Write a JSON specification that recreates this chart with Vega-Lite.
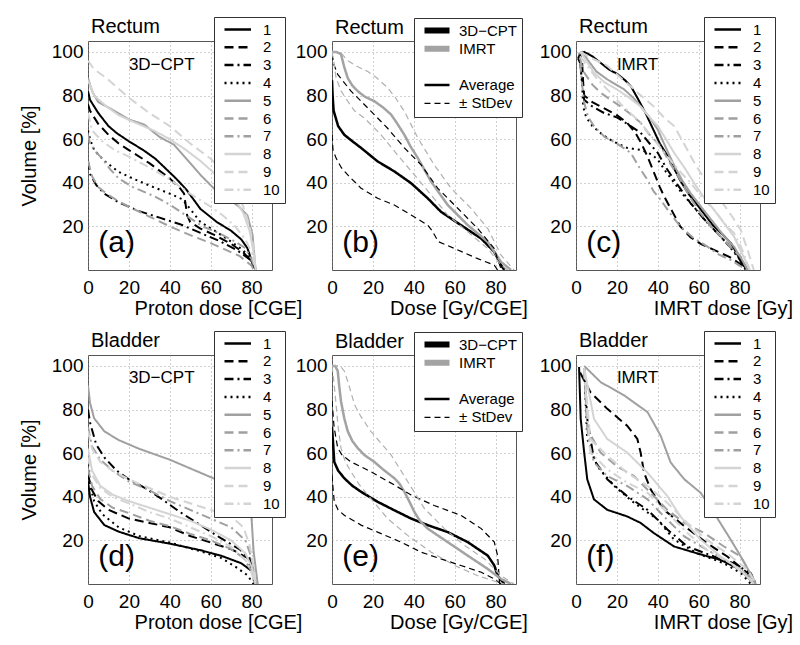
{
"$schema":"https://vega.github.io/schema/vega-lite/v6.json",
"background":"white",
"padding":{"left":19,"top":16,"right":0,"bottom":0},
"config":{
 "font":"Liberation Sans",
 "view":{"stroke":"#555555","strokeWidth":1},
 "axis":{"domain":false,"ticks":false,"tickSize":0,"labelFlush":false,"grid":true,"gridColor":"#8a8a8a","gridDash":[1,3],"gridWidth":0.8,"labelFont":"Liberation Sans","labelFontSize":19,"labelColor":"#000000","titleFont":"Liberation Sans","titleFontSize":20,"titleFontWeight":"normal","titleColor":"#000000"},
 "axisX":{"labelPadding":8.5,"titleY":44,"titleBaseline":"alphabetic","titleAlign":"center"},
 "axisY":{"labelPadding":5,"titleX":-52.5,"titleY":114.5,"titleBaseline":"alphabetic","titleAlign":"center","titleAngle":-90},
 "legend":{"orient":"none","title":null,"strokeColor":"#333333","fillColor":"#ffffff","padding":5,"labelFont":"Liberation Sans","labelFontSize":15,"labelColor":"#000000","symbolType":"M-1,0H4.3","symbolSize":100,"symbolStrokeWidth":2.5,"symbolOffset":3,"rowPadding":1.8,"labelOffset":26},
 "title":{"anchor":"start","frame":"group","baseline":"alphabetic","offset":7,"dx":3,"dy":27,"fontSize":20,"fontWeight":"normal","font":"Liberation Sans","color":"#000000"}
},
"resolve":{"scale":{"color":"independent","strokeDash":"independent"},"legend":{"color":"independent","strokeDash":"independent"}},
"datasets":{
"labels":[
 {"panel":"a","kind":"big","t":"(a)","x":5,"y":12.5},{"panel":"a","kind":"small","t":"3D−CPT","x":20,"y":94},
 {"panel":"b","kind":"big","t":"(b)","x":5,"y":12.5},
 {"panel":"c","kind":"big","t":"(c)","x":5,"y":12.5},{"panel":"c","kind":"small","t":"IMRT","x":20,"y":94},
 {"panel":"d","kind":"big","t":"(d)","x":5,"y":12.5},{"panel":"d","kind":"small","t":"3D−CPT","x":20,"y":94.5},
 {"panel":"e","kind":"big","t":"(e)","x":5,"y":12.5},
 {"panel":"f","kind":"big","t":"(f)","x":5,"y":12.5},{"panel":"f","kind":"small","t":"IMRT","x":20,"y":94.5}
],
"a":[
{"p":1,"x":0,"y":82},{"p":1,"x":1,"y":78},{"p":1,"x":5,"y":72},{"p":1,"x":10,"y":66},{"p":1,"x":14,"y":62.8},{"p":1,"x":20,"y":59},{"p":1,"x":27,"y":55},{"p":1,"x":33,"y":51},{"p":1,"x":38,"y":46.5},{"p":1,"x":43,"y":42},{"p":1,"x":48,"y":37},{"p":1,"x":55,"y":28},{"p":1,"x":63,"y":22},{"p":1,"x":70,"y":18},{"p":1,"x":75,"y":14},{"p":1,"x":78,"y":10},{"p":1,"x":80.5,"y":3},{"p":1,"x":82,"y":0},
{"p":2,"x":0,"y":76},{"p":2,"x":1,"y":73},{"p":2,"x":5,"y":67},{"p":2,"x":10,"y":62},{"p":2,"x":15,"y":58},{"p":2,"x":20,"y":55},{"p":2,"x":30,"y":49},{"p":2,"x":40,"y":42},{"p":2,"x":45,"y":37.5},{"p":2,"x":47,"y":35},{"p":2,"x":48.5,"y":25},{"p":2,"x":50,"y":22},{"p":2,"x":55,"y":19},{"p":2,"x":62,"y":16},{"p":2,"x":70,"y":12},{"p":2,"x":76,"y":8},{"p":2,"x":80,"y":4},{"p":2,"x":82,"y":0},
{"p":3,"x":0,"y":50},{"p":3,"x":1,"y":44},{"p":3,"x":4,"y":39},{"p":3,"x":8,"y":35},{"p":3,"x":15,"y":31},{"p":3,"x":25,"y":27},{"p":3,"x":35,"y":24},{"p":3,"x":45,"y":21},{"p":3,"x":55,"y":17},{"p":3,"x":65,"y":13},{"p":3,"x":73,"y":9},{"p":3,"x":79,"y":5},{"p":3,"x":82,"y":0},
{"p":4,"x":0,"y":64},{"p":4,"x":1,"y":60},{"p":4,"x":3,"y":55},{"p":4,"x":8,"y":50},{"p":4,"x":15,"y":45},{"p":4,"x":23,"y":41.5},{"p":4,"x":32,"y":38},{"p":4,"x":40,"y":35},{"p":4,"x":46,"y":32.5},{"p":4,"x":50,"y":28},{"p":4,"x":55,"y":22},{"p":4,"x":62,"y":18},{"p":4,"x":70,"y":13},{"p":4,"x":76,"y":9},{"p":4,"x":80,"y":4},{"p":4,"x":82,"y":0},
{"p":5,"x":0,"y":88},{"p":5,"x":2,"y":82},{"p":5,"x":5,"y":77},{"p":5,"x":11,"y":74},{"p":5,"x":20,"y":69},{"p":5,"x":27.5,"y":66.7},{"p":5,"x":35,"y":61},{"p":5,"x":42,"y":57.5},{"p":5,"x":50,"y":49},{"p":5,"x":55,"y":43.6},{"p":5,"x":62,"y":37},{"p":5,"x":68,"y":33},{"p":5,"x":74,"y":29},{"p":5,"x":78,"y":25},{"p":5,"x":80.5,"y":16},{"p":5,"x":81.5,"y":5},{"p":5,"x":82,"y":0},
{"p":6,"x":0,"y":50},{"p":6,"x":2,"y":43},{"p":6,"x":5,"y":38},{"p":6,"x":9,"y":35},{"p":6,"x":14,"y":32},{"p":6,"x":20,"y":29},{"p":6,"x":30,"y":24.5},{"p":6,"x":40,"y":20},{"p":6,"x":50,"y":16},{"p":6,"x":60,"y":12.3},{"p":6,"x":68,"y":9},{"p":6,"x":74,"y":6.5},{"p":6,"x":80,"y":2},{"p":6,"x":81,"y":0},
{"p":7,"x":0,"y":62},{"p":7,"x":1,"y":58},{"p":7,"x":4,"y":54},{"p":7,"x":7,"y":51},{"p":7,"x":11,"y":46},{"p":7,"x":15,"y":42},{"p":7,"x":22,"y":38},{"p":7,"x":32,"y":34},{"p":7,"x":40,"y":30},{"p":7,"x":48,"y":25},{"p":7,"x":56,"y":20},{"p":7,"x":64,"y":17},{"p":7,"x":72,"y":13},{"p":7,"x":77,"y":10},{"p":7,"x":80,"y":5},{"p":7,"x":82,"y":0},
{"p":8,"x":0,"y":87},{"p":8,"x":3,"y":80},{"p":8,"x":9,"y":75},{"p":8,"x":15,"y":71},{"p":8,"x":22,"y":68},{"p":8,"x":32,"y":64},{"p":8,"x":40,"y":60},{"p":8,"x":48,"y":55},{"p":8,"x":55,"y":50},{"p":8,"x":61,"y":45},{"p":8,"x":66,"y":40},{"p":8,"x":71,"y":34},{"p":8,"x":76,"y":26},{"p":8,"x":79,"y":18},{"p":8,"x":81,"y":8},{"p":8,"x":82,"y":0},
{"p":9,"x":0,"y":96},{"p":9,"x":3,"y":92},{"p":9,"x":9,"y":88},{"p":9,"x":20,"y":79},{"p":9,"x":30,"y":72},{"p":9,"x":40,"y":66},{"p":9,"x":50,"y":58},{"p":9,"x":60,"y":51},{"p":9,"x":67,"y":44.6},{"p":9,"x":71,"y":38},{"p":9,"x":76,"y":29},{"p":9,"x":79,"y":20},{"p":9,"x":81,"y":10},{"p":9,"x":82,"y":0},
{"p":10,"x":0,"y":72},{"p":10,"x":2,"y":64},{"p":10,"x":7,"y":59},{"p":10,"x":13,"y":55},{"p":10,"x":20,"y":52},{"p":10,"x":30,"y":47},{"p":10,"x":40,"y":41.5},{"p":10,"x":50,"y":35},{"p":10,"x":60,"y":29},{"p":10,"x":66,"y":25},{"p":10,"x":72,"y":20},{"p":10,"x":77,"y":14},{"p":10,"x":80,"y":8},{"p":10,"x":82,"y":0}
],
"c":[
{"p":1,"x":2,"y":99},{"p":1,"x":4,"y":100},{"p":1,"x":8,"y":98},{"p":1,"x":12,"y":95},{"p":1,"x":16,"y":92},{"p":1,"x":20,"y":90},{"p":1,"x":24,"y":87},{"p":1,"x":27,"y":84},{"p":1,"x":30,"y":79},{"p":1,"x":34,"y":72},{"p":1,"x":38,"y":64},{"p":1,"x":41,"y":58},{"p":1,"x":45,"y":52},{"p":1,"x":51,"y":41},{"p":1,"x":55,"y":35},{"p":1,"x":60,"y":29},{"p":1,"x":67,"y":20.5},{"p":1,"x":72,"y":16},{"p":1,"x":76,"y":12},{"p":1,"x":79,"y":7},{"p":1,"x":81,"y":3},{"p":1,"x":84,"y":0},
{"p":2,"x":1,"y":97},{"p":2,"x":2,"y":99},{"p":2,"x":3,"y":95},{"p":2,"x":3.5,"y":86},{"p":2,"x":4,"y":80},{"p":2,"x":8,"y":77},{"p":2,"x":15,"y":73.5},{"p":2,"x":20,"y":71},{"p":2,"x":25,"y":67.5},{"p":2,"x":29,"y":63},{"p":2,"x":32,"y":58},{"p":2,"x":35,"y":52},{"p":2,"x":38,"y":45},{"p":2,"x":41,"y":38},{"p":2,"x":43,"y":34},{"p":2,"x":47,"y":27},{"p":2,"x":51,"y":20},{"p":2,"x":56,"y":15},{"p":2,"x":61,"y":12},{"p":2,"x":68,"y":9},{"p":2,"x":75,"y":6},{"p":2,"x":80,"y":3},{"p":2,"x":84,"y":0},
{"p":3,"x":1,"y":97},{"p":3,"x":2,"y":95},{"p":3,"x":3,"y":88},{"p":3,"x":4,"y":78},{"p":3,"x":8,"y":75},{"p":3,"x":13.7,"y":72},{"p":3,"x":20,"y":70},{"p":3,"x":25,"y":67},{"p":3,"x":31.6,"y":63},{"p":3,"x":36,"y":58},{"p":3,"x":40,"y":53.7},{"p":3,"x":44,"y":47},{"p":3,"x":48,"y":41.4},{"p":3,"x":52,"y":36},{"p":3,"x":56,"y":30.7},{"p":3,"x":62,"y":24},{"p":3,"x":67.5,"y":18.5},{"p":3,"x":72,"y":14},{"p":3,"x":77,"y":9},{"p":3,"x":81,"y":4},{"p":3,"x":84,"y":0},
{"p":4,"x":2,"y":96},{"p":4,"x":3,"y":85},{"p":4,"x":3.5,"y":75},{"p":4,"x":5,"y":70},{"p":4,"x":8,"y":66},{"p":4,"x":13,"y":62},{"p":4,"x":18,"y":59},{"p":4,"x":25,"y":56},{"p":4,"x":32,"y":55},{"p":4,"x":37,"y":53},{"p":4,"x":40,"y":50.6},{"p":4,"x":44,"y":45},{"p":4,"x":48,"y":40},{"p":4,"x":52,"y":35},{"p":4,"x":56,"y":30.7},{"p":4,"x":62,"y":24},{"p":4,"x":68,"y":18},{"p":4,"x":74,"y":12},{"p":4,"x":80,"y":5},{"p":4,"x":83,"y":0},
{"p":5,"x":1,"y":99},{"p":5,"x":3,"y":100},{"p":5,"x":6,"y":96},{"p":5,"x":10,"y":91},{"p":5,"x":15.3,"y":87.4},{"p":5,"x":23.5,"y":82.8},{"p":5,"x":28,"y":79},{"p":5,"x":31.6,"y":75},{"p":5,"x":36,"y":70},{"p":5,"x":40,"y":64.4},{"p":5,"x":44,"y":56},{"p":5,"x":48,"y":48},{"p":5,"x":52,"y":41},{"p":5,"x":56,"y":35.3},{"p":5,"x":62,"y":28},{"p":5,"x":67.5,"y":21.5},{"p":5,"x":72,"y":16},{"p":5,"x":77.3,"y":10.7},{"p":5,"x":81,"y":5},{"p":5,"x":84,"y":0},
{"p":6,"x":2,"y":97},{"p":6,"x":3,"y":93},{"p":6,"x":4,"y":90.5},{"p":6,"x":8,"y":85},{"p":6,"x":12,"y":81.3},{"p":6,"x":17,"y":78},{"p":6,"x":21.8,"y":75},{"p":6,"x":26,"y":72},{"p":6,"x":31.6,"y":67.5},{"p":6,"x":36,"y":62},{"p":6,"x":41.4,"y":56.7},{"p":6,"x":46,"y":49},{"p":6,"x":51,"y":41.4},{"p":6,"x":56,"y":33},{"p":6,"x":61,"y":26},{"p":6,"x":66,"y":20},{"p":6,"x":70.8,"y":15.3},{"p":6,"x":76,"y":10},{"p":6,"x":80.6,"y":6},{"p":6,"x":84,"y":0},
{"p":7,"x":2,"y":95},{"p":7,"x":3,"y":85},{"p":7,"x":4,"y":76.7},{"p":7,"x":6,"y":70},{"p":7,"x":8.8,"y":66},{"p":7,"x":14,"y":61},{"p":7,"x":20,"y":58},{"p":7,"x":26.8,"y":53.7},{"p":7,"x":31,"y":47},{"p":7,"x":34.9,"y":41.4},{"p":7,"x":38,"y":36},{"p":7,"x":41.4,"y":32.2},{"p":7,"x":46,"y":26},{"p":7,"x":51,"y":20},{"p":7,"x":57,"y":15},{"p":7,"x":64.3,"y":10.7},{"p":7,"x":70,"y":7},{"p":7,"x":75.7,"y":4.6},{"p":7,"x":80,"y":2},{"p":7,"x":84,"y":0},
{"p":8,"x":2,"y":100},{"p":8,"x":5,"y":96},{"p":8,"x":8.8,"y":90.5},{"p":8,"x":14,"y":86},{"p":8,"x":20,"y":82.8},{"p":8,"x":26,"y":79},{"p":8,"x":31.6,"y":75},{"p":8,"x":36,"y":70},{"p":8,"x":40,"y":66},{"p":8,"x":44,"y":60},{"p":8,"x":48,"y":53.7},{"p":8,"x":53,"y":47},{"p":8,"x":57.7,"y":40},{"p":8,"x":62,"y":34},{"p":8,"x":67.5,"y":27.6},{"p":8,"x":72,"y":22},{"p":8,"x":77.3,"y":15.3},{"p":8,"x":81,"y":8},{"p":8,"x":85,"y":0},
{"p":9,"x":2,"y":100},{"p":9,"x":8,"y":97},{"p":9,"x":15.3,"y":93.6},{"p":9,"x":22,"y":88},{"p":9,"x":28.4,"y":82.8},{"p":9,"x":33,"y":79},{"p":9,"x":38,"y":75},{"p":9,"x":43,"y":70},{"p":9,"x":48,"y":66},{"p":9,"x":51,"y":61},{"p":9,"x":54.5,"y":55},{"p":9,"x":58,"y":49},{"p":9,"x":61,"y":44.5},{"p":9,"x":66,"y":38},{"p":9,"x":70.8,"y":32},{"p":9,"x":76,"y":25},{"p":9,"x":80.6,"y":18.4},{"p":9,"x":84,"y":9},{"p":9,"x":87,"y":0},
{"p":10,"x":2,"y":98},{"p":10,"x":6,"y":93},{"p":10,"x":10,"y":88},{"p":10,"x":15.3,"y":82.8},{"p":10,"x":22,"y":76},{"p":10,"x":31.6,"y":67.5},{"p":10,"x":38,"y":60},{"p":10,"x":44.7,"y":52},{"p":10,"x":50,"y":46},{"p":10,"x":56,"y":40},{"p":10,"x":62,"y":33},{"p":10,"x":67.5,"y":27.6},{"p":10,"x":73,"y":21},{"p":10,"x":77.3,"y":16.9},{"p":10,"x":81,"y":10},{"p":10,"x":85,"y":0}
],
"d":[
{"p":1,"x":0,"y":47},{"p":1,"x":1,"y":40},{"p":1,"x":3,"y":33},{"p":1,"x":8,"y":27},{"p":1,"x":15,"y":24},{"p":1,"x":25,"y":21},{"p":1,"x":40,"y":18.5},{"p":1,"x":55,"y":15.5},{"p":1,"x":65,"y":13},{"p":1,"x":75,"y":9.5},{"p":1,"x":80,"y":6},{"p":1,"x":82,"y":0},
{"p":2,"x":0,"y":50},{"p":2,"x":2,"y":43},{"p":2,"x":5,"y":38},{"p":2,"x":10,"y":34},{"p":2,"x":20,"y":30},{"p":2,"x":30,"y":28},{"p":2,"x":40,"y":26},{"p":2,"x":50,"y":22},{"p":2,"x":60,"y":19},{"p":2,"x":70,"y":16},{"p":2,"x":78,"y":12},{"p":2,"x":82,"y":0},
{"p":3,"x":0,"y":80},{"p":3,"x":1,"y":74},{"p":3,"x":4,"y":64},{"p":3,"x":8,"y":58},{"p":3,"x":14,"y":52},{"p":3,"x":20,"y":48},{"p":3,"x":28,"y":44},{"p":3,"x":36,"y":39},{"p":3,"x":45,"y":33},{"p":3,"x":55,"y":27},{"p":3,"x":65,"y":21},{"p":3,"x":74,"y":16},{"p":3,"x":79,"y":12},{"p":3,"x":82,"y":0},
{"p":4,"x":0,"y":55},{"p":4,"x":1,"y":45},{"p":4,"x":3,"y":38},{"p":4,"x":7,"y":32},{"p":4,"x":15,"y":26},{"p":4,"x":25,"y":22},{"p":4,"x":40,"y":19},{"p":4,"x":55,"y":15},{"p":4,"x":65,"y":12},{"p":4,"x":72,"y":8},{"p":4,"x":78,"y":4},{"p":4,"x":81,"y":0},
{"p":5,"x":0,"y":91},{"p":5,"x":1,"y":83},{"p":5,"x":3,"y":76},{"p":5,"x":8,"y":70},{"p":5,"x":15,"y":66},{"p":5,"x":25,"y":62},{"p":5,"x":40,"y":57},{"p":5,"x":55,"y":51},{"p":5,"x":65,"y":47},{"p":5,"x":73,"y":43},{"p":5,"x":78,"y":39},{"p":5,"x":80,"y":30},{"p":5,"x":81,"y":15},{"p":5,"x":83,"y":0},
{"p":6,"x":0,"y":53},{"p":6,"x":2,"y":45},{"p":6,"x":6,"y":39},{"p":6,"x":12,"y":35},{"p":6,"x":20,"y":32.5},{"p":6,"x":30,"y":29},{"p":6,"x":40,"y":26.5},{"p":6,"x":50,"y":23},{"p":6,"x":60,"y":20},{"p":6,"x":70,"y":16},{"p":6,"x":76,"y":12},{"p":6,"x":80,"y":6},{"p":6,"x":82,"y":0},
{"p":7,"x":0,"y":72},{"p":7,"x":2,"y":63},{"p":7,"x":6,"y":57},{"p":7,"x":12,"y":52},{"p":7,"x":20,"y":47},{"p":7,"x":30,"y":43},{"p":7,"x":40,"y":38},{"p":7,"x":50,"y":34},{"p":7,"x":60,"y":30},{"p":7,"x":70,"y":26},{"p":7,"x":77,"y":20},{"p":7,"x":80,"y":12},{"p":7,"x":82,"y":0},
{"p":8,"x":0,"y":62},{"p":8,"x":2,"y":52},{"p":8,"x":6,"y":45},{"p":8,"x":12,"y":41},{"p":8,"x":20,"y":38},{"p":8,"x":30,"y":35},{"p":8,"x":40,"y":32},{"p":8,"x":50,"y":29},{"p":8,"x":60,"y":25},{"p":8,"x":70,"y":20},{"p":8,"x":77,"y":14},{"p":8,"x":80,"y":8},{"p":8,"x":82,"y":0},
{"p":9,"x":0,"y":70},{"p":9,"x":2,"y":62},{"p":9,"x":6,"y":56},{"p":9,"x":12,"y":52},{"p":9,"x":20,"y":48},{"p":9,"x":30,"y":44},{"p":9,"x":40,"y":40},{"p":9,"x":50,"y":37},{"p":9,"x":60,"y":34},{"p":9,"x":70,"y":31},{"p":9,"x":76,"y":26},{"p":9,"x":79,"y":18},{"p":9,"x":81,"y":8},{"p":9,"x":82,"y":0},
{"p":10,"x":0,"y":58},{"p":10,"x":2,"y":50},{"p":10,"x":6,"y":44},{"p":10,"x":12,"y":40},{"p":10,"x":20,"y":37},{"p":10,"x":30,"y":33},{"p":10,"x":40,"y":30},{"p":10,"x":50,"y":26},{"p":10,"x":60,"y":22},{"p":10,"x":70,"y":17},{"p":10,"x":78,"y":10},{"p":10,"x":82,"y":0}
],
"f":[
{"p":1,"x":1.5,"y":99.5},{"p":1,"x":2.3,"y":75.7},{"p":1,"x":4,"y":60.3},{"p":1,"x":5.5,"y":48},{"p":1,"x":8.8,"y":38.8},{"p":1,"x":15.3,"y":34},{"p":1,"x":25,"y":31},{"p":1,"x":31.6,"y":28},{"p":1,"x":38,"y":23.4},{"p":1,"x":48,"y":17.2},{"p":1,"x":59.4,"y":14},{"p":1,"x":70.8,"y":11},{"p":1,"x":80.6,"y":6.5},{"p":1,"x":87,"y":0},
{"p":2,"x":2,"y":97},{"p":2,"x":7,"y":88},{"p":2,"x":15.3,"y":80.3},{"p":2,"x":25,"y":72.6},{"p":2,"x":30,"y":66.5},{"p":2,"x":31.6,"y":60.3},{"p":2,"x":33.3,"y":51},{"p":2,"x":36.5,"y":43.4},{"p":2,"x":43,"y":34},{"p":2,"x":53,"y":26.5},{"p":2,"x":64,"y":18.8},{"p":2,"x":74,"y":12.6},{"p":2,"x":84,"y":5},{"p":2,"x":87,"y":0},
{"p":3,"x":4,"y":99},{"p":3,"x":5.5,"y":75.7},{"p":3,"x":8.8,"y":57},{"p":3,"x":15.3,"y":48},{"p":3,"x":25,"y":40.3},{"p":3,"x":35,"y":34},{"p":3,"x":44.7,"y":25},{"p":3,"x":54.5,"y":17.2},{"p":3,"x":67.5,"y":12.6},{"p":3,"x":77,"y":9.5},{"p":3,"x":85.5,"y":5},{"p":3,"x":88,"y":0},
{"p":4,"x":4,"y":99},{"p":4,"x":5.5,"y":66.5},{"p":4,"x":10.4,"y":54},{"p":4,"x":18.6,"y":45},{"p":4,"x":28.4,"y":37.2},{"p":4,"x":40,"y":29.5},{"p":4,"x":48,"y":20.3},{"p":4,"x":59.4,"y":14},{"p":4,"x":72.4,"y":9.5},{"p":4,"x":80.6,"y":5},{"p":4,"x":85.5,"y":0},
{"p":5,"x":4,"y":100},{"p":5,"x":12,"y":92.6},{"p":5,"x":23.5,"y":86.5},{"p":5,"x":35,"y":78.8},{"p":5,"x":41.4,"y":68},{"p":5,"x":46.3,"y":55.7},{"p":5,"x":53,"y":48},{"p":5,"x":61,"y":41.8},{"p":5,"x":67.5,"y":32.6},{"p":5,"x":75.7,"y":20.3},{"p":5,"x":80.6,"y":12.6},{"p":5,"x":87,"y":2},{"p":5,"x":88,"y":0},
{"p":6,"x":4,"y":99},{"p":6,"x":5.5,"y":71},{"p":6,"x":12,"y":60.3},{"p":6,"x":20,"y":54},{"p":6,"x":28.4,"y":49.5},{"p":6,"x":36.5,"y":41.8},{"p":6,"x":44.7,"y":34},{"p":6,"x":53,"y":28},{"p":6,"x":62.6,"y":23.4},{"p":6,"x":72.4,"y":17.2},{"p":6,"x":80.6,"y":12.6},{"p":6,"x":87,"y":2},
{"p":7,"x":4,"y":98},{"p":7,"x":6,"y":66},{"p":7,"x":8.8,"y":55.7},{"p":7,"x":15.3,"y":49.5},{"p":7,"x":25,"y":45},{"p":7,"x":35,"y":38.8},{"p":7,"x":43,"y":31},{"p":7,"x":53,"y":21.8},{"p":7,"x":64,"y":15.7},{"p":7,"x":75.7,"y":9.5},{"p":7,"x":85.5,"y":3.4},{"p":7,"x":87,"y":0},
{"p":8,"x":4,"y":99},{"p":8,"x":8.8,"y":75.7},{"p":8,"x":15.3,"y":66.5},{"p":8,"x":25,"y":60.3},{"p":8,"x":35,"y":51},{"p":8,"x":44.7,"y":40.3},{"p":8,"x":51,"y":31},{"p":8,"x":61,"y":20.3},{"p":8,"x":70.8,"y":12.6},{"p":8,"x":80.6,"y":6.5},{"p":8,"x":87,"y":0},
{"p":9,"x":4,"y":99},{"p":9,"x":7,"y":66.5},{"p":9,"x":15.3,"y":58.8},{"p":9,"x":25,"y":51},{"p":9,"x":35,"y":45},{"p":9,"x":44.7,"y":37.2},{"p":9,"x":54.5,"y":28},{"p":9,"x":64,"y":20.3},{"p":9,"x":74,"y":14},{"p":9,"x":84,"y":6.5},{"p":9,"x":88,"y":0},
{"p":10,"x":4,"y":98},{"p":10,"x":7,"y":60.3},{"p":10,"x":15.3,"y":52.6},{"p":10,"x":25,"y":46.5},{"p":10,"x":35,"y":41.8},{"p":10,"x":44.7,"y":32.6},{"p":10,"x":54.5,"y":23.4},{"p":10,"x":64,"y":15.7},{"p":10,"x":75.7,"y":9.5},{"p":10,"x":85.5,"y":2},{"p":10,"x":87,"y":0}
],
"b":[
{"k":"Average","l":"c","x":0,"y":87},{"k":"Average","l":"c","x":0.3,"y":80},{"k":"Average","l":"c","x":0.8,"y":73},{"k":"Average","l":"c","x":3,"y":66},{"k":"Average","l":"c","x":6,"y":62},{"k":"Average","l":"c","x":10,"y":59},{"k":"Average","l":"c","x":14.2,"y":56},{"k":"Average","l":"c","x":22.3,"y":49.8},{"k":"Average","l":"c","x":30.5,"y":45.2},{"k":"Average","l":"c","x":38.7,"y":39.8},{"k":"Average","l":"c","x":46.8,"y":32.9},{"k":"Average","l":"c","x":53.3,"y":26.7},{"k":"Average","l":"c","x":63,"y":20.6},{"k":"Average","l":"c","x":73,"y":14.4},{"k":"Average","l":"c","x":79.4,"y":8.3},{"k":"Average","l":"c","x":82.7,"y":2.2},{"k":"Average","l":"c","x":84.3,"y":0},
{"k":"± StDev","l":"clo","x":0,"y":62},{"k":"± StDev","l":"clo","x":0.5,"y":55},{"k":"± StDev","l":"clo","x":2,"y":51.3},{"k":"± StDev","l":"clo","x":4.5,"y":47},{"k":"± StDev","l":"clo","x":7.7,"y":43.6},{"k":"± StDev","l":"clo","x":14.2,"y":37.5},{"k":"± StDev","l":"clo","x":22.3,"y":32.9},{"k":"± StDev","l":"clo","x":30.5,"y":29.8},{"k":"± StDev","l":"clo","x":38.7,"y":25.2},{"k":"± StDev","l":"clo","x":46.8,"y":20.6},{"k":"± StDev","l":"clo","x":49,"y":18},{"k":"± StDev","l":"clo","x":52,"y":13},{"k":"± StDev","l":"clo","x":60,"y":9.8},{"k":"± StDev","l":"clo","x":71.3,"y":5.2},{"k":"± StDev","l":"clo","x":79.4,"y":2.2},{"k":"± StDev","l":"clo","x":81,"y":0},
{"k":"± StDev","l":"chi","x":0,"y":99},{"k":"± StDev","l":"chi","x":1,"y":94},{"k":"± StDev","l":"chi","x":2.8,"y":89.7},{"k":"± StDev","l":"chi","x":9.3,"y":82},{"k":"± StDev","l":"chi","x":17.5,"y":74.3},{"k":"± StDev","l":"chi","x":27.2,"y":65},{"k":"± StDev","l":"chi","x":35.4,"y":56},{"k":"± StDev","l":"chi","x":43.6,"y":48.2},{"k":"± StDev","l":"chi","x":51.7,"y":37.5},{"k":"± StDev","l":"chi","x":61.5,"y":28.3},{"k":"± StDev","l":"chi","x":71.3,"y":19},{"k":"± StDev","l":"chi","x":79.4,"y":9.8},{"k":"± StDev","l":"chi","x":81,"y":5},{"k":"± StDev","l":"chi","x":82.7,"y":0.6},
{"k":"IMRT avg","l":"i","x":0,"y":100},{"k":"IMRT avg","l":"i","x":2,"y":100},{"k":"IMRT avg","l":"i","x":4.4,"y":99},{"k":"IMRT avg","l":"i","x":6,"y":93},{"k":"IMRT avg","l":"i","x":7.7,"y":88},{"k":"IMRT avg","l":"i","x":10,"y":84.5},{"k":"IMRT avg","l":"i","x":12.6,"y":82},{"k":"IMRT avg","l":"i","x":16,"y":79.5},{"k":"IMRT avg","l":"i","x":20.7,"y":77.4},{"k":"IMRT avg","l":"i","x":25,"y":74.5},{"k":"IMRT avg","l":"i","x":28.9,"y":71.3},{"k":"IMRT avg","l":"i","x":32,"y":67},{"k":"IMRT avg","l":"i","x":35.4,"y":62},{"k":"IMRT avg","l":"i","x":38.5,"y":56.5},{"k":"IMRT avg","l":"i","x":42,"y":51.3},{"k":"IMRT avg","l":"i","x":48.5,"y":40.5},{"k":"IMRT avg","l":"i","x":56.6,"y":29.8},{"k":"IMRT avg","l":"i","x":66.4,"y":20.6},{"k":"IMRT avg","l":"i","x":76.2,"y":12.9},{"k":"IMRT avg","l":"i","x":82.7,"y":3.7},{"k":"IMRT avg","l":"i","x":87.6,"y":0},
{"k":"IMRT sd","l":"ihi","x":0,"y":100},{"k":"IMRT sd","l":"ihi","x":4,"y":100},{"k":"IMRT sd","l":"ihi","x":7.7,"y":96},{"k":"IMRT sd","l":"ihi","x":12,"y":93.5},{"k":"IMRT sd","l":"ihi","x":17.5,"y":91},{"k":"IMRT sd","l":"ihi","x":22,"y":88},{"k":"IMRT sd","l":"ihi","x":27.2,"y":83.6},{"k":"IMRT sd","l":"ihi","x":31,"y":79},{"k":"IMRT sd","l":"ihi","x":35.4,"y":72.8},{"k":"IMRT sd","l":"ihi","x":38.5,"y":67},{"k":"IMRT sd","l":"ihi","x":42,"y":60.5},{"k":"IMRT sd","l":"ihi","x":50,"y":48.2},{"k":"IMRT sd","l":"ihi","x":58.2,"y":37.5},{"k":"IMRT sd","l":"ihi","x":68,"y":28.3},{"k":"IMRT sd","l":"ihi","x":76.2,"y":19},{"k":"IMRT sd","l":"ihi","x":82.7,"y":6.8},{"k":"IMRT sd","l":"ihi","x":89,"y":0},
{"k":"IMRT sd","l":"ilo","x":0,"y":100},{"k":"IMRT sd","l":"ilo","x":1,"y":95},{"k":"IMRT sd","l":"ilo","x":2,"y":88},{"k":"IMRT sd","l":"ilo","x":4.5,"y":82},{"k":"IMRT sd","l":"ilo","x":7.7,"y":77.4},{"k":"IMRT sd","l":"ilo","x":11,"y":73},{"k":"IMRT sd","l":"ilo","x":15.8,"y":69.7},{"k":"IMRT sd","l":"ilo","x":24,"y":62},{"k":"IMRT sd","l":"ilo","x":32,"y":52.8},{"k":"IMRT sd","l":"ilo","x":40.3,"y":43.6},{"k":"IMRT sd","l":"ilo","x":48.5,"y":34.4},{"k":"IMRT sd","l":"ilo","x":56.6,"y":25.2},{"k":"IMRT sd","l":"ilo","x":66.4,"y":17.5},{"k":"IMRT sd","l":"ilo","x":76.2,"y":9.8},{"k":"IMRT sd","l":"ilo","x":82.7,"y":2.2},{"k":"IMRT sd","l":"ilo","x":86,"y":0}
],
"e":[
{"k":"Average","l":"c","x":0,"y":72},{"k":"Average","l":"c","x":0.5,"y":65},{"k":"Average","l":"c","x":1.1,"y":56},{"k":"Average","l":"c","x":3,"y":52},{"k":"Average","l":"c","x":6,"y":48.5},{"k":"Average","l":"c","x":10,"y":45},{"k":"Average","l":"c","x":14.2,"y":42.3},{"k":"Average","l":"c","x":22.3,"y":37.7},{"k":"Average","l":"c","x":30.5,"y":33.8},{"k":"Average","l":"c","x":38.7,"y":30},{"k":"Average","l":"c","x":46.8,"y":27},{"k":"Average","l":"c","x":56.6,"y":23.8},{"k":"Average","l":"c","x":66.4,"y":19.2},{"k":"Average","l":"c","x":76.2,"y":13},{"k":"Average","l":"c","x":79.4,"y":8.5},{"k":"Average","l":"c","x":81,"y":3.8},{"k":"Average","l":"c","x":84.3,"y":0},
{"k":"± StDev","l":"chi","x":0,"y":84},{"k":"± StDev","l":"chi","x":1,"y":72},{"k":"± StDev","l":"chi","x":2.8,"y":62.3},{"k":"± StDev","l":"chi","x":5,"y":59},{"k":"± StDev","l":"chi","x":9.3,"y":56},{"k":"± StDev","l":"chi","x":19,"y":51.5},{"k":"± StDev","l":"chi","x":30.5,"y":45.4},{"k":"± StDev","l":"chi","x":38.7,"y":40.8},{"k":"± StDev","l":"chi","x":50,"y":36},{"k":"± StDev","l":"chi","x":63,"y":31.5},{"k":"± StDev","l":"chi","x":73,"y":25.4},{"k":"± StDev","l":"chi","x":79.4,"y":19.2},{"k":"± StDev","l":"chi","x":81,"y":13},{"k":"± StDev","l":"chi","x":82,"y":0},
{"k":"± StDev","l":"clo","x":0,"y":50},{"k":"± StDev","l":"clo","x":0.5,"y":44},{"k":"± StDev","l":"clo","x":1.1,"y":37.7},{"k":"± StDev","l":"clo","x":3,"y":34},{"k":"± StDev","l":"clo","x":6,"y":31.5},{"k":"± StDev","l":"clo","x":14.2,"y":27},{"k":"± StDev","l":"clo","x":22.3,"y":23.8},{"k":"± StDev","l":"clo","x":33.8,"y":19.2},{"k":"± StDev","l":"clo","x":43.6,"y":14.6},{"k":"± StDev","l":"clo","x":53.3,"y":11.5},{"k":"± StDev","l":"clo","x":63,"y":8.5},{"k":"± StDev","l":"clo","x":73,"y":5.4},{"k":"± StDev","l":"clo","x":79.4,"y":2.3},{"k":"± StDev","l":"clo","x":82.7,"y":0},
{"k":"IMRT avg","l":"i","x":0,"y":100},{"k":"IMRT avg","l":"i","x":1.5,"y":100},{"k":"IMRT avg","l":"i","x":2.8,"y":97.7},{"k":"IMRT avg","l":"i","x":3.5,"y":91},{"k":"IMRT avg","l":"i","x":4.4,"y":83.8},{"k":"IMRT avg","l":"i","x":6,"y":76},{"k":"IMRT avg","l":"i","x":7.7,"y":70},{"k":"IMRT avg","l":"i","x":10,"y":65.5},{"k":"IMRT avg","l":"i","x":12.6,"y":62.3},{"k":"IMRT avg","l":"i","x":16,"y":59},{"k":"IMRT avg","l":"i","x":20.7,"y":56},{"k":"IMRT avg","l":"i","x":25,"y":52.5},{"k":"IMRT avg","l":"i","x":30.5,"y":48.5},{"k":"IMRT avg","l":"i","x":33,"y":46},{"k":"IMRT avg","l":"i","x":35.4,"y":42.3},{"k":"IMRT avg","l":"i","x":38,"y":37.5},{"k":"IMRT avg","l":"i","x":40.3,"y":33},{"k":"IMRT avg","l":"i","x":43,"y":29},{"k":"IMRT avg","l":"i","x":46.8,"y":25.4},{"k":"IMRT avg","l":"i","x":56.6,"y":19.2},{"k":"IMRT avg","l":"i","x":66.4,"y":13},{"k":"IMRT avg","l":"i","x":76.2,"y":6.9},{"k":"IMRT avg","l":"i","x":82.7,"y":2.3},{"k":"IMRT avg","l":"i","x":87.6,"y":0},
{"k":"IMRT sd","l":"ihi","x":0,"y":100},{"k":"IMRT sd","l":"ihi","x":4,"y":100},{"k":"IMRT sd","l":"ihi","x":6,"y":97.7},{"k":"IMRT sd","l":"ihi","x":8,"y":92},{"k":"IMRT sd","l":"ihi","x":11,"y":82.3},{"k":"IMRT sd","l":"ihi","x":14,"y":77},{"k":"IMRT sd","l":"ihi","x":19,"y":70},{"k":"IMRT sd","l":"ihi","x":28.9,"y":59.2},{"k":"IMRT sd","l":"ihi","x":37,"y":47},{"k":"IMRT sd","l":"ihi","x":45.2,"y":34.6},{"k":"IMRT sd","l":"ihi","x":55,"y":25.4},{"k":"IMRT sd","l":"ihi","x":64.8,"y":17.7},{"k":"IMRT sd","l":"ihi","x":74.6,"y":11.5},{"k":"IMRT sd","l":"ihi","x":82.7,"y":3.8},{"k":"IMRT sd","l":"ihi","x":89,"y":0},
{"k":"IMRT sd","l":"ilo","x":0,"y":100},{"k":"IMRT sd","l":"ilo","x":1,"y":92},{"k":"IMRT sd","l":"ilo","x":2,"y":82.3},{"k":"IMRT sd","l":"ilo","x":3,"y":72},{"k":"IMRT sd","l":"ilo","x":4.4,"y":62.3},{"k":"IMRT sd","l":"ilo","x":6.5,"y":56},{"k":"IMRT sd","l":"ilo","x":9.3,"y":51.5},{"k":"IMRT sd","l":"ilo","x":13,"y":46},{"k":"IMRT sd","l":"ilo","x":17.5,"y":40.8},{"k":"IMRT sd","l":"ilo","x":27.2,"y":30},{"k":"IMRT sd","l":"ilo","x":37,"y":22.3},{"k":"IMRT sd","l":"ilo","x":48.5,"y":14.6},{"k":"IMRT sd","l":"ilo","x":60,"y":8.5},{"k":"IMRT sd","l":"ilo","x":71.3,"y":3.8},{"k":"IMRT sd","l":"ilo","x":81,"y":0.8},{"k":"IMRT sd","l":"ilo","x":84.3,"y":0}
]
},
"columns":3,
"spacing":{"row":85,"column":60},
"bounds":"flush",
"concat":[
{"width":184,"height":229,"title":{"text":"Rectum"},
 "layer":[
  {"data":{"name":"a"},"mark":{"type":"line","strokeWidth":2,"clip":true},
   "encoding":{
    "x":{"field":"x","type":"quantitative","scale":{"domain":[0,90],"nice":false,"zero":false},"axis":{"values":[0,20,40,60,80],"title":"Proton dose [CGE]","titleX":130}},
    "y":{"field":"y","type":"quantitative","scale":{"domain":[0,105],"nice":false,"zero":false},"axis":{"values":[20,40,60,80,100],"title":"Volume [%]"}},
    "color":{"field":"p","type":"nominal","scale":{"domain":[1,2,3,4,5,6,7,8,9,10],"range":["#000000","#000000","#000000","#000000","#a0a0a0","#a0a0a0","#a0a0a0","#d4d4d4","#d4d4d4","#d4d4d4"]},"legend":{"legendX":126,"legendY":-24}},
    "strokeDash":{"field":"p","type":"nominal","scale":{"domain":[1,2,3,4,5,6,7,8,9,10],"range":[[1,0],[9,5],[9,4,2,4],[2,4],[1,0],[9,5],[9,4,2,4],[1,0],[9,5],[9,4,2,4]]},"legend":{"legendX":126,"legendY":-24}}
   }},
  {"data":{"name":"labels"},"transform":[{"filter":"datum.panel === 'a' && datum.kind === 'big'"}],"mark":{"type":"text","fontSize":30,"align":"left","baseline":"middle","font":"Liberation Sans"},
   "encoding":{"x":{"field":"x","type":"quantitative"},"y":{"field":"y","type":"quantitative"},"text":{"field":"t","type":"nominal"}}},
  {"data":{"name":"labels"},"transform":[{"filter":"datum.panel === 'a' && datum.kind === 'small'"}],"mark":{"type":"text","fontSize":17,"align":"left","baseline":"middle","font":"Liberation Sans"},
   "encoding":{"x":{"field":"x","type":"quantitative"},"y":{"field":"y","type":"quantitative"},"text":{"field":"t","type":"nominal"}}}
 ]},
{"width":184,"height":229,"title":{"text":"Rectum"},
 "layer":[
  {"data":{"name":"b"},"transform":[{"filter":"datum.l === 'c' || datum.l === 'i'"}],"mark":{"type":"line","strokeWidth":2.5,"clip":true},
   "encoding":{
    "x":{"field":"x","type":"quantitative","scale":{"domain":[0,90],"nice":false,"zero":false},"axis":{"values":[0,20,40,60,80],"title":"Dose [Gy/CGE]","titleX":126.5}},
    "y":{"field":"y","type":"quantitative","scale":{"domain":[0,105],"nice":false,"zero":false},"axis":{"values":[20,40,60,80,100],"title":null}},
    "detail":{"field":"l","type":"nominal"},
    "color":{"field":"k","type":"nominal","scale":{"domain":["3D−CPT","IMRT"," ","Average","± StDev","IMRT avg","IMRT sd"],"range":["#000000","#a3a3a3","#ffffff","#000000","#000000","#a3a3a3","#b0b0b0"]},"legend":{"values":["3D−CPT","IMRT"," ","Average","± StDev"],"legendX":82,"legendY":-23,"labelOffset":22,"rowPadding":2.2,"symbolType":"M-1,0H4","labelExpr":"datum.value === '± StDev' ? '\u00a0\u00a0± StDev' : datum.value","encode":{"symbols":{"update":{"strokeJoin":{"value":"bevel"},"strokeWidth":{"signal":"datum.value === '3D−CPT' || datum.value === 'IMRT' ? 6 : datum.value === 'Average' ? 2.5 : datum.value === ' ' ? 0 : 1.2"}}}}}},
    "strokeDash":{"field":"k","type":"nominal","scale":{"domain":["3D−CPT","IMRT"," ","Average","± StDev","IMRT avg","IMRT sd"],"range":[[1,0],[1,0],[1,0],[1,0],[6,4],[1,0],[6,4]]},"legend":{"values":["3D−CPT","IMRT"," ","Average","± StDev"],"legendX":82,"legendY":-23,"labelOffset":22,"rowPadding":2.2,"symbolType":"M-1,0H4","labelExpr":"datum.value === '± StDev' ? '\u00a0\u00a0± StDev' : datum.value","encode":{"symbols":{"update":{"strokeJoin":{"value":"bevel"},"strokeWidth":{"signal":"datum.value === '3D−CPT' || datum.value === 'IMRT' ? 6 : datum.value === 'Average' ? 2.5 : datum.value === ' ' ? 0 : 1.2"}}}}}}
   }},
  {"data":{"name":"b"},"transform":[{"filter":"datum.l !== 'c' && datum.l !== 'i'"}],"mark":{"type":"line","strokeWidth":1.2,"clip":true},
   "encoding":{
    "x":{"field":"x","type":"quantitative"},
    "y":{"field":"y","type":"quantitative"},
    "detail":{"field":"l","type":"nominal"},
    "color":{"field":"k","type":"nominal"},
    "strokeDash":{"field":"k","type":"nominal"}
   }},
  {"data":{"name":"labels"},"transform":[{"filter":"datum.panel === 'b' && datum.kind === 'big'"}],"mark":{"type":"text","fontSize":30,"align":"left","baseline":"middle","font":"Liberation Sans"},
   "encoding":{"x":{"field":"x","type":"quantitative"},"y":{"field":"y","type":"quantitative"},"text":{"field":"t","type":"nominal"}}}
 ]},
{"width":184,"height":229,"title":{"text":"Rectum"},
 "layer":[
  {"data":{"name":"c"},"mark":{"type":"line","strokeWidth":2,"clip":true},
   "encoding":{
    "x":{"field":"x","type":"quantitative","scale":{"domain":[0,90],"nice":false,"zero":false},"axis":{"values":[0,20,40,60,80],"title":"IMRT dose [Gy]","titleX":147}},
    "y":{"field":"y","type":"quantitative","scale":{"domain":[0,105],"nice":false,"zero":false},"axis":{"values":[20,40,60,80,100],"title":null}},
    "color":{"field":"p","type":"nominal","scale":{"domain":[1,2,3,4,5,6,7,8,9,10],"range":["#000000","#000000","#000000","#000000","#a0a0a0","#a0a0a0","#a0a0a0","#d4d4d4","#d4d4d4","#d4d4d4"]},"legend":{"legendX":128,"legendY":-24}},
    "strokeDash":{"field":"p","type":"nominal","scale":{"domain":[1,2,3,4,5,6,7,8,9,10],"range":[[1,0],[9,5],[9,4,2,4],[2,4],[1,0],[9,5],[9,4,2,4],[1,0],[9,5],[9,4,2,4]]},"legend":{"legendX":128,"legendY":-24}}
   }},
  {"data":{"name":"labels"},"transform":[{"filter":"datum.panel === 'c' && datum.kind === 'big'"}],"mark":{"type":"text","fontSize":30,"align":"left","baseline":"middle","font":"Liberation Sans"},
   "encoding":{"x":{"field":"x","type":"quantitative"},"y":{"field":"y","type":"quantitative"},"text":{"field":"t","type":"nominal"}}},
  {"data":{"name":"labels"},"transform":[{"filter":"datum.panel === 'c' && datum.kind === 'small'"}],"mark":{"type":"text","fontSize":17,"align":"left","baseline":"middle","font":"Liberation Sans"},
   "encoding":{"x":{"field":"x","type":"quantitative"},"y":{"field":"y","type":"quantitative"},"text":{"field":"t","type":"nominal"}}}
 ]},
{"width":184,"height":229,"title":{"text":"Bladder"},
 "layer":[
  {"data":{"name":"d"},"mark":{"type":"line","strokeWidth":2,"clip":true},
   "encoding":{
    "x":{"field":"x","type":"quantitative","scale":{"domain":[0,90],"nice":false,"zero":false},"axis":{"values":[0,20,40,60,80],"title":"Proton dose [CGE]","titleX":130}},
    "y":{"field":"y","type":"quantitative","scale":{"domain":[0,105],"nice":false,"zero":false},"axis":{"values":[20,40,60,80,100],"title":"Volume [%]"}},
    "color":{"field":"p","type":"nominal","scale":{"domain":[1,2,3,4,5,6,7,8,9,10],"range":["#000000","#000000","#000000","#000000","#a0a0a0","#a0a0a0","#a0a0a0","#d4d4d4","#d4d4d4","#d4d4d4"]},"legend":{"legendX":126,"legendY":-24}},
    "strokeDash":{"field":"p","type":"nominal","scale":{"domain":[1,2,3,4,5,6,7,8,9,10],"range":[[1,0],[9,5],[9,4,2,4],[2,4],[1,0],[9,5],[9,4,2,4],[1,0],[9,5],[9,4,2,4]]},"legend":{"legendX":126,"legendY":-24}}
   }},
  {"data":{"name":"labels"},"transform":[{"filter":"datum.panel === 'd' && datum.kind === 'big'"}],"mark":{"type":"text","fontSize":30,"align":"left","baseline":"middle","font":"Liberation Sans"},
   "encoding":{"x":{"field":"x","type":"quantitative"},"y":{"field":"y","type":"quantitative"},"text":{"field":"t","type":"nominal"}}},
  {"data":{"name":"labels"},"transform":[{"filter":"datum.panel === 'd' && datum.kind === 'small'"}],"mark":{"type":"text","fontSize":17,"align":"left","baseline":"middle","font":"Liberation Sans"},
   "encoding":{"x":{"field":"x","type":"quantitative"},"y":{"field":"y","type":"quantitative"},"text":{"field":"t","type":"nominal"}}}
 ]},
{"width":184,"height":229,"title":{"text":"Bladder"},
 "layer":[
  {"data":{"name":"e"},"transform":[{"filter":"datum.l === 'c' || datum.l === 'i'"}],"mark":{"type":"line","strokeWidth":2.5,"clip":true},
   "encoding":{
    "x":{"field":"x","type":"quantitative","scale":{"domain":[0,90],"nice":false,"zero":false},"axis":{"values":[0,20,40,60,80],"title":"Dose [Gy/CGE]","titleX":126.5}},
    "y":{"field":"y","type":"quantitative","scale":{"domain":[0,105],"nice":false,"zero":false},"axis":{"values":[20,40,60,80,100],"title":null}},
    "detail":{"field":"l","type":"nominal"},
    "color":{"field":"k","type":"nominal","scale":{"domain":["3D−CPT","IMRT"," ","Average","± StDev","IMRT avg","IMRT sd"],"range":["#000000","#a3a3a3","#ffffff","#000000","#000000","#a3a3a3","#b0b0b0"]},"legend":{"values":["3D−CPT","IMRT"," ","Average","± StDev"],"legendX":82,"legendY":-23,"labelOffset":22,"rowPadding":2.2,"symbolType":"M-1,0H4","labelExpr":"datum.value === '± StDev' ? '\u00a0\u00a0± StDev' : datum.value","encode":{"symbols":{"update":{"strokeJoin":{"value":"bevel"},"strokeWidth":{"signal":"datum.value === '3D−CPT' || datum.value === 'IMRT' ? 6 : datum.value === 'Average' ? 2.5 : datum.value === ' ' ? 0 : 1.2"}}}}}},
    "strokeDash":{"field":"k","type":"nominal","scale":{"domain":["3D−CPT","IMRT"," ","Average","± StDev","IMRT avg","IMRT sd"],"range":[[1,0],[1,0],[1,0],[1,0],[6,4],[1,0],[6,4]]},"legend":{"values":["3D−CPT","IMRT"," ","Average","± StDev"],"legendX":82,"legendY":-23,"labelOffset":22,"rowPadding":2.2,"symbolType":"M-1,0H4","labelExpr":"datum.value === '± StDev' ? '\u00a0\u00a0± StDev' : datum.value","encode":{"symbols":{"update":{"strokeJoin":{"value":"bevel"},"strokeWidth":{"signal":"datum.value === '3D−CPT' || datum.value === 'IMRT' ? 6 : datum.value === 'Average' ? 2.5 : datum.value === ' ' ? 0 : 1.2"}}}}}}
   }},
  {"data":{"name":"e"},"transform":[{"filter":"datum.l !== 'c' && datum.l !== 'i'"}],"mark":{"type":"line","strokeWidth":1.2,"clip":true},
   "encoding":{
    "x":{"field":"x","type":"quantitative"},
    "y":{"field":"y","type":"quantitative"},
    "detail":{"field":"l","type":"nominal"},
    "color":{"field":"k","type":"nominal"},
    "strokeDash":{"field":"k","type":"nominal"}
   }},
  {"data":{"name":"labels"},"transform":[{"filter":"datum.panel === 'e' && datum.kind === 'big'"}],"mark":{"type":"text","fontSize":30,"align":"left","baseline":"middle","font":"Liberation Sans"},
   "encoding":{"x":{"field":"x","type":"quantitative"},"y":{"field":"y","type":"quantitative"},"text":{"field":"t","type":"nominal"}}}
 ]},
{"width":184,"height":229,"title":{"text":"Bladder"},
 "layer":[
  {"data":{"name":"f"},"mark":{"type":"line","strokeWidth":2,"clip":true},
   "encoding":{
    "x":{"field":"x","type":"quantitative","scale":{"domain":[0,90],"nice":false,"zero":false},"axis":{"values":[0,20,40,60,80],"title":"IMRT dose [Gy]","titleX":147}},
    "y":{"field":"y","type":"quantitative","scale":{"domain":[0,105],"nice":false,"zero":false},"axis":{"values":[20,40,60,80,100],"title":null}},
    "color":{"field":"p","type":"nominal","scale":{"domain":[1,2,3,4,5,6,7,8,9,10],"range":["#000000","#000000","#000000","#000000","#a0a0a0","#a0a0a0","#a0a0a0","#d4d4d4","#d4d4d4","#d4d4d4"]},"legend":{"legendX":128,"legendY":-24}},
    "strokeDash":{"field":"p","type":"nominal","scale":{"domain":[1,2,3,4,5,6,7,8,9,10],"range":[[1,0],[9,5],[9,4,2,4],[2,4],[1,0],[9,5],[9,4,2,4],[1,0],[9,5],[9,4,2,4]]},"legend":{"legendX":128,"legendY":-24}}
   }},
  {"data":{"name":"labels"},"transform":[{"filter":"datum.panel === 'f' && datum.kind === 'big'"}],"mark":{"type":"text","fontSize":30,"align":"left","baseline":"middle","font":"Liberation Sans"},
   "encoding":{"x":{"field":"x","type":"quantitative"},"y":{"field":"y","type":"quantitative"},"text":{"field":"t","type":"nominal"}}},
  {"data":{"name":"labels"},"transform":[{"filter":"datum.panel === 'f' && datum.kind === 'small'"}],"mark":{"type":"text","fontSize":17,"align":"left","baseline":"middle","font":"Liberation Sans"},
   "encoding":{"x":{"field":"x","type":"quantitative"},"y":{"field":"y","type":"quantitative"},"text":{"field":"t","type":"nominal"}}}
 ]}
]
}
